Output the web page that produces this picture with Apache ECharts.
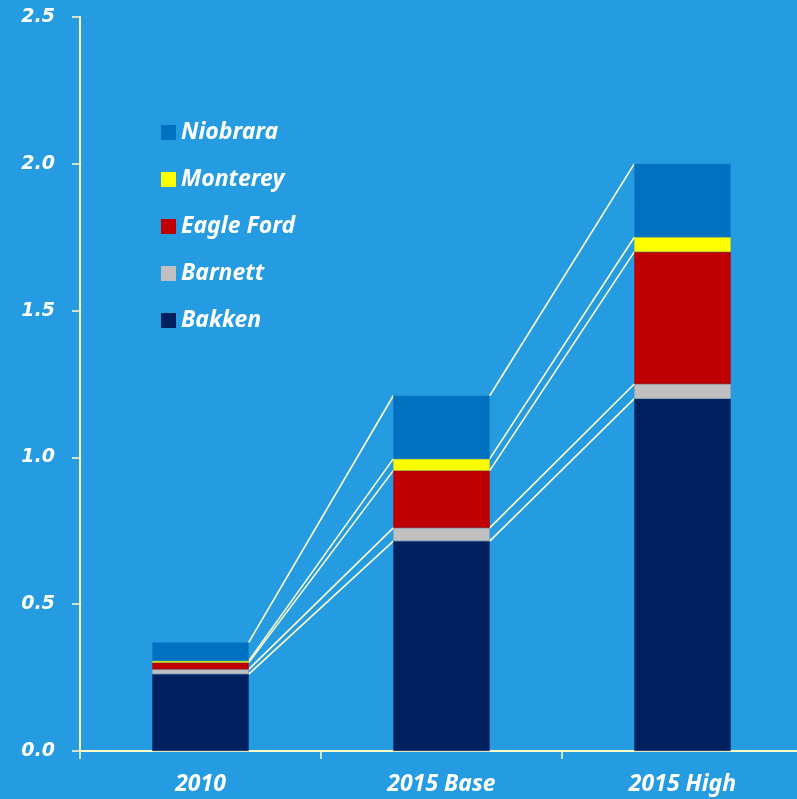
<!DOCTYPE html>
<html>
<head>
<meta charset="utf-8">
<script src="https://cdn.jsdelivr.net/npm/echarts@6/dist/echarts.min.js"></script>
<style>
html,body{margin:0;padding:0;background:#259BE1;}
#c{width:797px;height:799px;}
</style>
</head>
<body>
<div id="c"></div>
<script>
var categories = ['2010', '2015 Base', '2015 High'];
var bakken    = [0.262, 0.715, 1.20];
var barnett   = [0.016, 0.045, 0.05];
var eagleFord = [0.023, 0.195, 0.45];
var monterey  = [0.006, 0.04, 0.05];
var niobrara  = [0.063, 0.215, 0.25];
var yTicks = [0, 0.5, 1.0, 1.5, 2.0, 2.5];

var seriesDefs = [
  {name: 'Bakken', data: bakken, color: '#002060', border: '#0A2A6A'},
  {name: 'Barnett', data: barnett, color: '#C0C0C0', border: '#A8A8A8'},
  {name: 'Eagle Ford', data: eagleFord, color: '#C00000', border: '#A80808'},
  {name: 'Monterey', data: monterey, color: '#FFFF00', border: '#E0E000'},
  {name: 'Niobrara', data: niobrara, color: '#0070C0', border: '#1478C0'}
];

// cumulative tops per level
var cum = seriesDefs.map(function(){ return []; });
for (var i = 0; i < categories.length; i++) {
  var s = 0;
  for (var k = 0; k < seriesDefs.length; k++) {
    s += seriesDefs[k].data[i];
    cum[k][i] = s;
  }
}
var connectorData = [];
for (var i = 0; i < categories.length - 1; i++) {
  for (var k = 0; k < seriesDefs.length; k++) {
    connectorData.push([i, cum[k][i], cum[k][i + 1]]);
  }
}
var BAR_FRAC = 0.4;
var lineColor = '#FFFCC8';
var labelFont = '"Noto Sans", "Open Sans", sans-serif';

var series = seriesDefs.map(function(d){
  return {
    name: d.name, type: 'bar', stack: 'total', data: d.data,
    barWidth: (BAR_FRAC * 100) + '%',
    itemStyle: {color: d.color, borderColor: d.border, borderWidth: 0.6},
    emphasis: {disabled: true}
  };
});
series.push({
  type: 'custom',
  silent: true,
  clip: false,
  data: connectorData,
  encode: {x: 0, y: [1, 2]},
  renderItem: function(params, api){
    var idx = api.value(0);
    var p1 = api.coord([idx, api.value(1)]);
    var p2 = api.coord([idx + 1, api.value(2)]);
    var half = api.size([1, 0])[0] * BAR_FRAC / 2;
    return {
      type: 'line',
      shape: {x1: p1[0] + half, y1: p1[1], x2: p2[0] - half, y2: p2[1]},
      style: {stroke: lineColor, lineWidth: 1.6}
    };
  }
});

var chart = echarts.init(document.getElementById('c'));
chart.setOption({
  backgroundColor: '#259BE1',
  animation: false,
  grid: {left: 80, width: 723, top: 17, bottom: 48, containLabel: false, outerBoundsMode: 'none'},
  legend: {
    orient: 'vertical', left: 156, top: 116,
    data: ['Niobrara', 'Monterey', 'Eagle Ford', 'Barnett', 'Bakken'],
    icon: 'rect', itemWidth: 15, itemHeight: 15, itemGap: 24,
    itemStyle: {borderWidth: 0},
    selectedMode: false,
    textStyle: {color: '#FFFFFF', fontFamily: labelFont, fontSize: 23, fontWeight: 'bold', fontStyle: 'italic', lineHeight: 22}
  },
  xAxis: {
    type: 'category', data: categories,
    axisLine: {lineStyle: {color: lineColor, width: 2}},
    axisTick: {show: true, length: 8, lineStyle: {color: lineColor, width: 1.5}},
    axisLabel: {color: '#FFFFFF', fontFamily: labelFont, fontSize: 23, fontWeight: 'bold', fontStyle: 'italic', margin: 22}
  },
  yAxis: {
    type: 'value', min: yTicks[0], max: yTicks[yTicks.length - 1], interval: 0.5,
    axisLine: {show: true, lineStyle: {color: lineColor, width: 2}},
    axisTick: {show: true, length: 8, lineStyle: {color: lineColor, width: 1.5}},
    splitLine: {show: false},
    axisLabel: {color: '#FFFFFF', fontFamily: '"DejaVu Sans", sans-serif', fontSize: 19, fontWeight: 'bold', fontStyle: 'italic', margin: 25,
      formatter: function(v){ return v.toFixed(1); }}
  },
  series: series
});
</script>
</body>
</html>
